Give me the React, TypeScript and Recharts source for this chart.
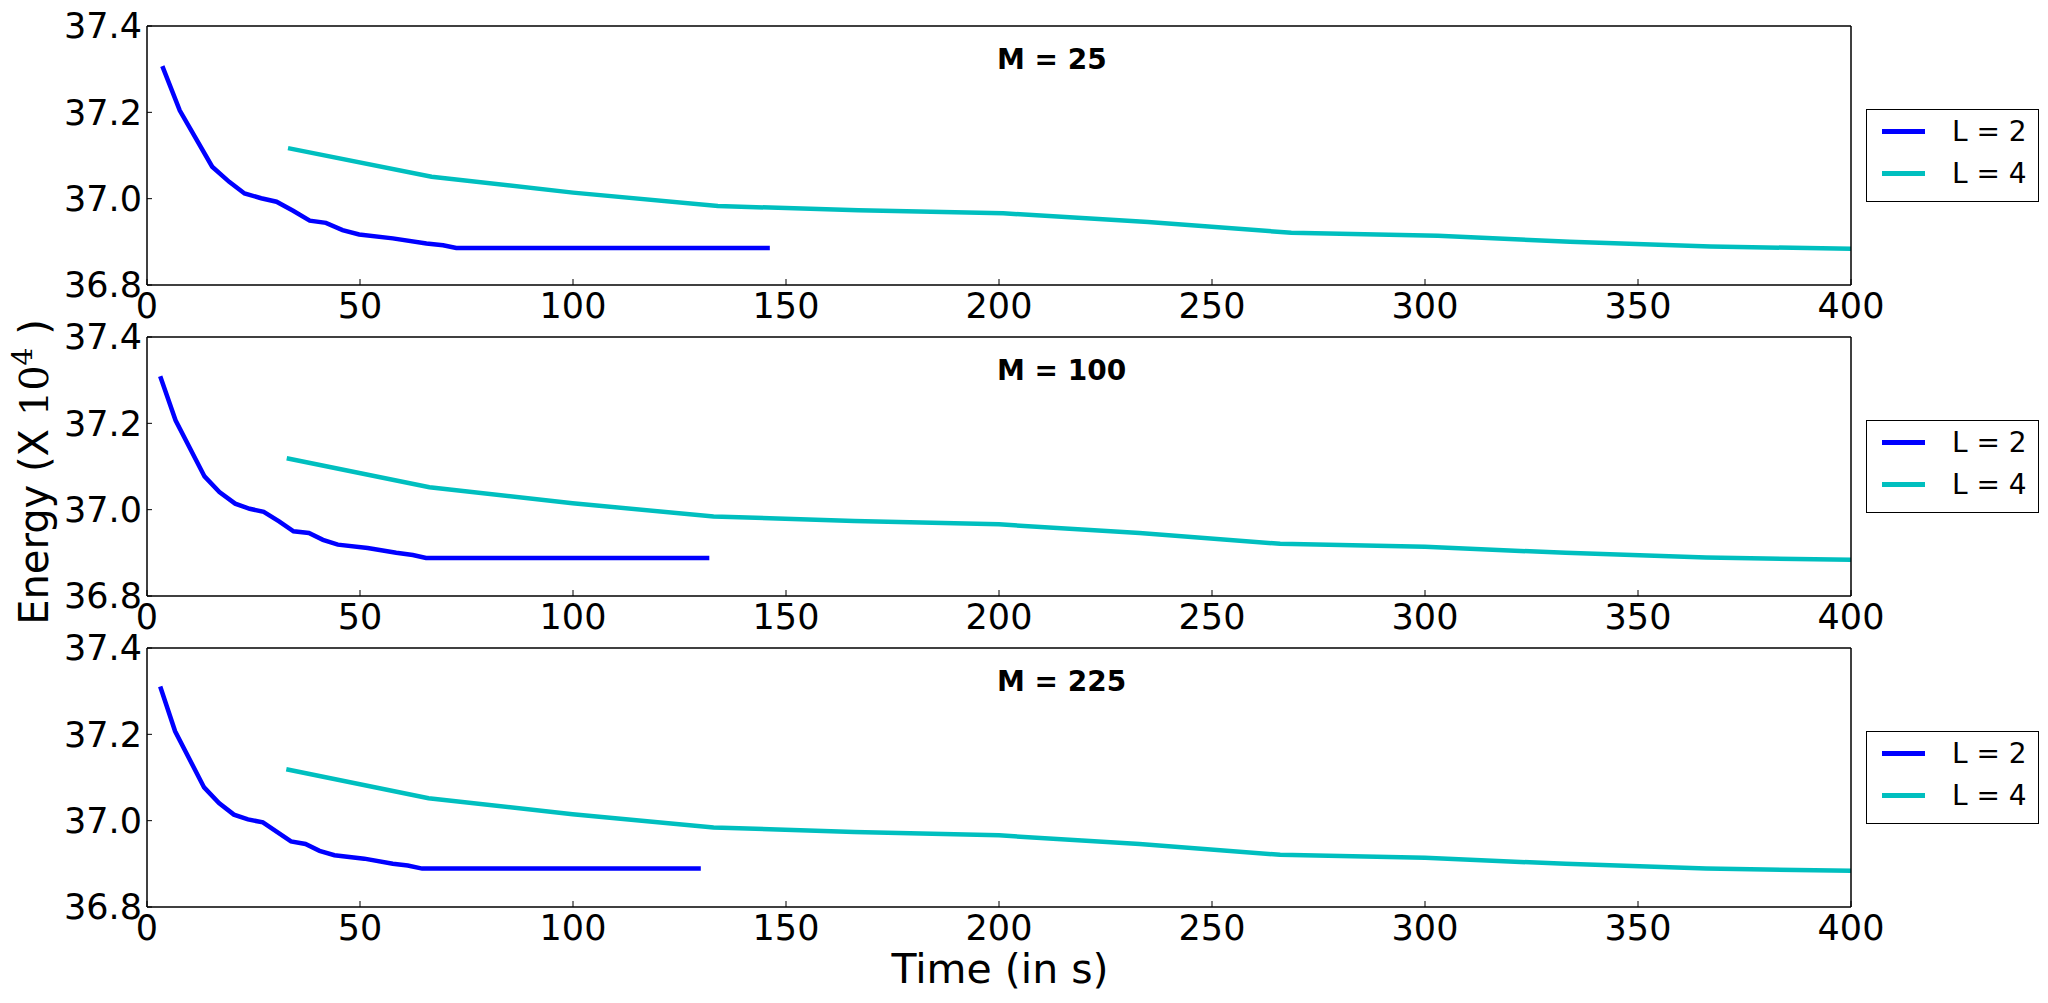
import React from 'react'
import { LineChart, Line, XAxis, YAxis, Legend, ReferenceDot } from 'recharts'

const FONT = '"DejaVu Sans", Verdana, sans-serif'

const xTicks = [0, 50, 100, 150, 200, 250, 300, 350, 400]
const yTicks = [36.8, 37.0, 37.2, 37.4]
const titles = ['M = 25', 'M = 100', 'M = 225']
const seriesNames = ['L = 2', 'L = 4']

// M = 25
const blueTime1 = [3.6, 7.7, 15.3, 19.3, 22.9, 26.8, 30.4, 34.3, 38.2, 42.0, 45.9, 49.8, 57.7, 65.6, 69.5, 72.6, 146.2]
const blueEnergy1 = [37.307, 37.204, 37.074, 37.039, 37.012, 37.001, 36.993, 36.972, 36.949, 36.944, 36.927, 36.917, 36.908, 36.896, 36.892, 36.886, 36.886]
const cyanTime1 = [33.1, 66.8, 100, 134, 167, 201, 235, 268.6, 303, 334, 367, 400]
const cyanEnergy1 = [37.117, 37.051, 37.014, 36.983, 36.973, 36.966, 36.946, 36.921, 36.914, 36.9, 36.889, 36.884]

// M = 100
const blueTime2 = [3.1, 6.7, 13.5, 17.0, 20.7, 24.1, 27.4, 31.0, 34.4, 38.0, 41.3, 44.8, 51.8, 58.5, 62.4, 65.5, 132]
const blueEnergy2 = [37.309, 37.207, 37.077, 37.041, 37.014, 37.002, 36.995, 36.973, 36.95, 36.946, 36.93, 36.919, 36.911, 36.9, 36.895, 36.888, 36.888]
const cyanTime2 = [32.8, 66.3, 99.9, 133, 166, 200, 233, 266, 300, 333, 366, 400]
const cyanEnergy2 = [37.119, 37.052, 37.015, 36.984, 36.974, 36.966, 36.946, 36.921, 36.914, 36.9, 36.889, 36.884]

// M = 225
const blueTime3 = [3.1, 6.6, 13.4, 16.9, 20.4, 23.7, 27.2, 30.5, 33.8, 37.2, 40.5, 44.0, 51.0, 57.7, 61.2, 64.6, 130]
const blueEnergy3 = [37.311, 37.207, 37.077, 37.041, 37.014, 37.003, 36.996, 36.974, 36.952, 36.946, 36.93, 36.92, 36.912, 36.9, 36.896, 36.889, 36.889]
const cyanTime3 = [32.7, 66.1, 99.9, 133, 166, 200, 233, 266, 300, 333, 366, 400]
const cyanEnergy3 = [37.119, 37.052, 37.015, 36.984, 36.974, 36.966, 36.946, 36.921, 36.914, 36.9, 36.889, 36.884]

const toPoints = (t: number[], e: number[]) => t.map((v, i) => ({ t: v, e: e[i] }))

const panels = [
  { title: titles[0], l2: toPoints(blueTime1, blueEnergy1), l4: toPoints(cyanTime1, cyanEnergy1) },
  { title: titles[1], l2: toPoints(blueTime2, blueEnergy2), l4: toPoints(cyanTime2, cyanEnergy2) },
  { title: titles[2], l2: toPoints(blueTime3, blueEnergy3), l4: toPoints(cyanTime3, cyanEnergy3) }
]

const LegendBox = (props: any) => {
  const items = props.payload || []
  return (
    <div
      style={{
        position: 'relative',
        width: 173,
        height: 93,
        border: '1.5px solid #000',
        boxSizing: 'border-box',
        background: '#fff'
      }}
    >
      {items.map((it: any, i: number) => (
        <React.Fragment key={i}>
          <div
            style={{
              position: 'absolute',
              left: 15,
              top: 19 + i * 42.3,
              width: 43,
              height: 4.5,
              background: it.color
            }}
          />
          <div
            style={{
              position: 'absolute',
              left: 85,
              top: 7.7 + i * 42.3,
              fontFamily: FONT,
              fontSize: 28,
              lineHeight: '28px',
              whiteSpace: 'pre',
              color: '#000'
            }}
          >
            {it.value}
          </div>
        </React.Fragment>
      ))}
    </div>
  )
}

const titleLabel = (title: string) => (props: any) => {
  const vb = props.viewBox || props
  return (
    <text
      x={vb.x - 2}
      y={vb.y}
      fontFamily={FONT}
      fontSize={28}
      fontWeight='bold'
      fill='#000'
    >
      {title}
    </text>
  )
}

const axisLine = { stroke: '#000', strokeWidth: 1.5 }
const tickLine = { stroke: '#000', strokeWidth: 1 }
const tickFont = { fill: '#000', fontSize: 35, fontFamily: FONT }

function Panel({ title, l2, l4, top }: any) {
  return (
    <div style={{ position: 'absolute', left: 0, top }}>
      <LineChart
        width={2048}
        height={340}
        margin={{ top: 25, right: 196, bottom: 5, left: 0 }}
      >
        <XAxis
          xAxisId='b'
          dataKey='t'
          type='number'
          domain={[0, 400]}
          ticks={xTicks}
          interval={0}
          allowDataOverflow
          height={50}
          tickSize={-6}
          tickMargin={14}
          axisLine={axisLine}
          tickLine={tickLine}
          tick={tickFont}
        />
        <XAxis
          xAxisId='t'
          orientation='top'
          dataKey='t'
          type='number'
          domain={[0, 400]}
          ticks={xTicks}
          interval={0}
          allowDataOverflow
          height={1}
          tickSize={-6}
          axisLine={axisLine}
          tickLine={tickLine}
          tick={false}
        />
        <YAxis
          yAxisId='l'
          type='number'
          domain={[36.8, 37.4]}
          ticks={yTicks}
          interval={0}
          allowDataOverflow
          width={147}
          tickSize={-5}
          tickMargin={10}
          tickFormatter={(v: number) => v.toFixed(1)}
          axisLine={axisLine}
          tickLine={tickLine}
          tick={tickFont}
        />
        <YAxis
          yAxisId='r'
          orientation='right'
          type='number'
          domain={[36.8, 37.4]}
          ticks={yTicks}
          interval={0}
          allowDataOverflow
          width={1}
          tickSize={-5}
          axisLine={axisLine}
          tickLine={tickLine}
          tick={false}
        />
        <Line
          xAxisId='b'
          yAxisId='l'
          data={l2}
          dataKey='e'
          name={seriesNames[0]}
          stroke='#0000ff'
          strokeWidth={4.5}
          dot={false}
          isAnimationActive={false}
        />
        <Line
          xAxisId='b'
          yAxisId='l'
          data={l4}
          dataKey='e'
          name={seriesNames[1]}
          stroke='#00bfbf'
          strokeWidth={4.5}
          dot={false}
          isAnimationActive={false}
        />
        <ReferenceDot
          xAxisId='b'
          yAxisId='l'
          x={200}
          y={37.3}
          r={0}
          fill='none'
          stroke='none'
          label={titleLabel(title)}
        />
        <Legend
          layout='vertical'
          align='center'
          verticalAlign='middle'
          wrapperStyle={{ left: 1866, top: 109, width: 173, height: 93 }}
          content={LegendBox}
        />
      </LineChart>
    </div>
  )
}

export default function App() {
  return (
    <div
      style={{
        position: 'absolute',
        left: 0,
        top: 0,
        width: 2048,
        height: 1003,
        background: '#fff',
        overflow: 'hidden'
      }}
    >
      {panels.map((p, i) => (
        <Panel key={i} title={p.title} l2={p.l2} l4={p.l4} top={i * 311} />
      ))}
      <svg
        width={2048}
        height={1003}
        style={{ position: 'absolute', left: 0, top: 0, pointerEvents: 'none' }}
      >
        <text
          x={1000}
          y={983}
          textAnchor='middle'
          fontFamily={FONT}
          fontSize={41}
          fill='#000'
        >
          Time (in s)
        </text>
        <text
          x={48}
          y={472}
          transform='rotate(-90 48 472)'
          textAnchor='middle'
          fontFamily={FONT}
          fontSize={40}
          fill='#000'
        >
          Energy (X{' '}
          <tspan fontFamily='"DejaVu Serif", serif'>10</tspan>
          <tspan fontFamily='"DejaVu Serif", serif' fontSize={28} dy={-16}>
            4
          </tspan>
          <tspan dy={16}> )</tspan>
        </text>
      </svg>
    </div>
  )
}
